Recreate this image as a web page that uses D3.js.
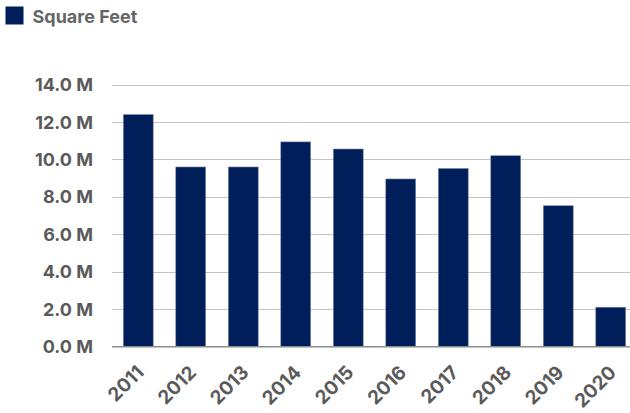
<!DOCTYPE html>
<html>
<head>
<meta charset="utf-8">
<script src="https://cdn.jsdelivr.net/npm/d3@7"></script>
<style>
  body { margin: 0; background: #fff; }
  svg { display: block; font-family: Inter, Lato, sans-serif; }
</style>
</head>
<body>
<div id="chart"></div>
<script>
const years = ["2011", "2012", "2013", "2014", "2015", "2016", "2017", "2018", "2019", "2020"];
const squareFeet = [12.40, 9.60, 9.60, 10.94, 10.56, 8.96, 9.52, 10.20, 7.53, 2.11]; // millions
const yTicks = [0, 2, 4, 6, 8, 10, 12, 14];
const seriesName = "Square Feet";

const width = 630;
const height = 413;
const barColor = "#001e5a";
const textColor = "#5a5a5a";

const svg = d3.select("#chart").append("svg")
	.attr("width", width)
	.attr("height", height);

const x = d3.scaleBand()
	.domain(years)
	.range([112, 637])
	.paddingInner(0.43)
	.paddingOuter(0.215);

const y = d3.scaleLinear()
	.domain([0, 14])
	.range([346.7, 84.6]);

// gridlines
svg.append("g")
	.selectAll("line")
	.data(yTicks.slice(1))
	.join("line")
		.attr("x1", 112)
		.attr("x2", width)
		.attr("y1", d => Math.round(y(d)) + 0.5)
		.attr("y2", d => Math.round(y(d)) + 0.5)
		.attr("stroke", "#c4c4c4")
		.attr("stroke-width", 1);

// y labels
svg.append("g")
	.selectAll("text")
	.data(yTicks)
	.join("text")
		.attr("x", 93)
		.attr("y", d => y(d))
		.attr("dy", "0.36em")
		.attr("text-anchor", "end")
		.attr("fill", textColor)
		.style("font-size", "18px")
		.style("font-weight", "bold")
		.text(d => d3.format(".1f")(d) + " M");

// bars
svg.append("g")
	.selectAll("rect")
	.data(years.map((yr, i) => ({ yr, v: squareFeet[i] })))
	.join("rect")
		.attr("x", d => x(d.yr))
		.attr("y", d => y(d.v))
		.attr("width", x.bandwidth())
		.attr("height", d => y(0) - y(d.v))
		.attr("fill", barColor)
		.attr("stroke", "#7f8fb0")
		.attr("stroke-width", 0.6);

// baseline
svg.append("line")
	.attr("x1", 112)
	.attr("x2", width)
	.attr("y1", y(0))
	.attr("y2", y(0))
	.attr("stroke", "#8c8c8c")
	.attr("stroke-width", 1.5);

// x labels
svg.append("g")
	.selectAll("text")
	.data(years)
	.join("text")
		.attr("transform", d => `translate(${x(d) + x.bandwidth() / 2 - 3},${364}) rotate(-45)`)
		.attr("text-anchor", "end")
		.attr("dy", "0.72em")
		.attr("fill", textColor)
		.style("font-size", "19px")
		.style("font-weight", "bold")
		.text(d => d);

// legend
const legend = svg.append("g");
legend.append("rect")
	.attr("x", 5.5)
	.attr("y", 6.5)
	.attr("width", 18)
	.attr("height", 18)
	.attr("fill", barColor);
legend.append("text")
	.attr("x", 32.5)
	.attr("y", 23)
	.attr("fill", "#666666")
	.style("font-size", "18px")
	.style("font-weight", "bold")
	.text(seriesName);
</script>
</body>
</html>
